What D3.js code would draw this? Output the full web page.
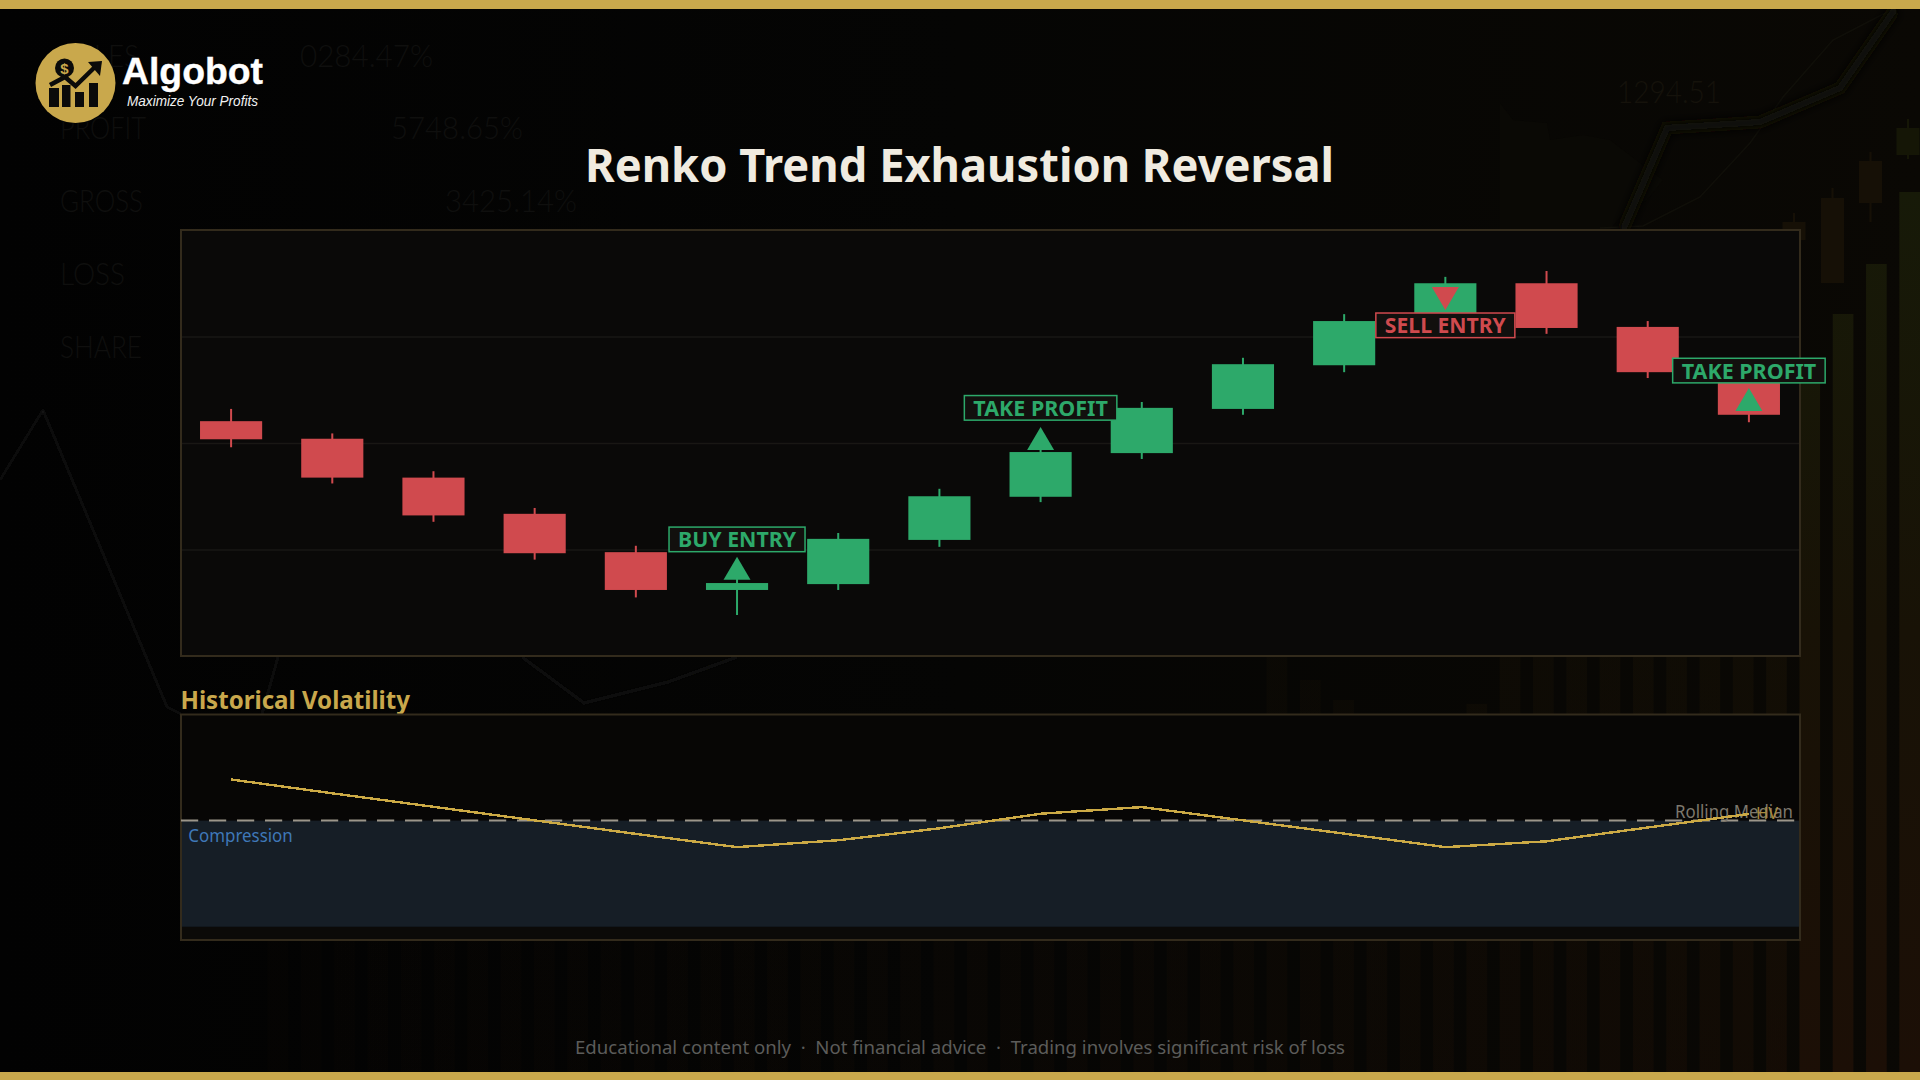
<!DOCTYPE html>
<html><head><meta charset="utf-8">
<script src="https://cdn.jsdelivr.net/npm/d3@7"></script>
<style>html,body{margin:0;padding:0;background:#030303;overflow:hidden}svg{display:block}.pre{white-space:pre}</style>
</head><body><svg id="c" width="1920" height="1080"></svg>
<script>
// ---- chart data ----
const bricks = ["1","2","3","4","5","6","7","8","9","10","11","12","13","14","15","16"];
const opens  = [104.41,104.08,103.35,102.67,101.95,101.24,101.35,102.18,102.99,103.81,104.64,105.46,106.18,107.00,106.18,105.35];
const closes = [104.07,103.35,102.64,101.93,101.24,101.37,102.20,103.00,103.83,104.66,105.48,106.29,107.00,106.16,105.33,104.53];
const highs  = [104.64,104.18,103.47,102.78,102.07,101.48,102.31,103.14,103.96,104.77,105.60,106.42,107.12,107.23,106.29,105.46];
const lows   = [103.92,103.24,102.52,101.81,101.10,100.77,101.24,102.05,102.89,103.70,104.53,105.33,106.07,106.05,105.22,104.39];
const priceGrid = [102,104,106];
const hv = [55.5,50.3,45.2,40.1,35.0,30.0,32.6,37.1,42.6,45.1,40.1,35.1,30.0,32.2,37.4,42.5];
const hvMedian = 40;
const signalText  = ["BUY ENTRY","TAKE PROFIT","SELL ENTRY","TAKE PROFIT"];
const signalBrick = ["6","9","13","16"];
const signalDir   = [1,1,-1,1];
const signalBase  = [101.43,103.87,106.93,104.60];
const signalLabel = [102.19,104.66,106.21,105.36];
// ---- backdrop data ----
const ghostText = ["SALES","0284.47%","PROFIT","5748.65%","GROSS","3425.14%","LOSS","SHARE","1294.51"];
const ghostX    = [61,300,60,391,60,445,60,60,1617];
const ghostW    = [78,133,86,132,83,132,65,82,104];
const ghostY    = [67,67,139,139,212,212,285,358,103];
const ghostBarTops = [900,900,890,900,880,880,870,870,860,860,850,850,840,840,830,830,820,820,800,800,780,780,770,760,760,740,740,730,720,720,655,680,700,720,730,720,704,650,650,650,650,650,650,650,650,640,380,314,264,192];
const ghostCandleX = [1794,1832.5,1870.5,1908];
const ghostCandleTop = [222,198,161,128];
const ghostCandleBot = [240,283,203,155];
const ghostWickTop = [213,188,152,119];
const ghostWickBot = [240,283,222,159];
const ghostBright = [[1623,230],[1667,128],[1760,122],[1840,88],[1895,9]];
const ghostCurve = [[1600,228],[1643,226],[1700,197],[1750,143],[1783,97],[1833,40],[1893,9]];
const ghostLeft = [[0,480],[43,410],[167,707],[181,714]];
const ghostLeft2 = [[262,714],[278,657]];
const ghostMid = [[522,657],[584,703],[668,682],[737,657]];
const ghostBull = [[1500,103],[1513,120],[1547,123],[1550,140],[1583,135],[1610,140],[1640,163],[1663,180],[1647,200],[1623,213],[1610,230],[1500,230]];

const FONT = "'Noto Sans','Open Sans',sans-serif";
const GOLD="#c9a84c", GREEN="#2da96a", RED="#d04a4e", FRAME="#332b1c";
const svg = d3.select("#c");
const defs = svg.append("defs");
const bgG = defs.append("linearGradient").attr("id","bg");
bgG.append("stop").attr("offset",0).attr("stop-color","#020202");
bgG.append("stop").attr("offset",.5).attr("stop-color","#050504");
bgG.append("stop").attr("offset",1).attr("stop-color","#0a0804");
const barG = defs.append("linearGradient").attr("id","bar").attr("gradientUnits","userSpaceOnUse").attr("x1",0).attr("x2",0).attr("y1",190).attr("y2",1072);
barG.append("stop").attr("offset",0).attr("stop-color","#171a08");
barG.append("stop").attr("offset",.5).attr("stop-color","#181206");
barG.append("stop").attr("offset",1).attr("stop-color","#1c0f06");
defs.append("filter").attr("id","b1").attr("x","-20%").attr("y","-20%").attr("width","140%").attr("height","140%").append("feGaussianBlur").attr("stdDeviation",1);
defs.append("filter").attr("id","b2").attr("x","-20%").attr("y","-20%").attr("width","140%").attr("height","140%").append("feGaussianBlur").attr("stdDeviation",2);
defs.append("filter").attr("id","b4").attr("x","-20%").attr("y","-20%").attr("width","140%").attr("height","140%").append("feGaussianBlur").attr("stdDeviation",4);

// backdrop
const bg = svg.append("g");
bg.append("rect").attr("width",1920).attr("height",1080).attr("fill","url(#bg)");
const lineRaw = d3.line();
bg.append("path").attr("d",lineRaw(ghostBull)+"Z").attr("fill","#0a0905");
const xGhost = d3.scaleBand().domain(d3.range(ghostBarTops.length)).range([267.6,1920]).paddingInner(.38).paddingOuter(0);
const ghostFade = d3.scaleLinear().domain([267,1300,1760,1800]).range([.08,.25,.5,1]);
bg.selectAll(".gb").data(ghostBarTops).join("rect").attr("x",(d,i)=>xGhost(i)).attr("width",xGhost.bandwidth())
  .attr("y",d=>d).attr("height",d=>1072-d).attr("fill","url(#bar)").attr("opacity",(d,i)=>ghostFade(xGhost(i)));
ghostCandleX.forEach((x,i)=>{
  const col = i===3?"#151606":"#161006";
  bg.append("rect").attr("x",x-1).attr("width",2).attr("y",ghostWickTop[i]).attr("height",ghostWickBot[i]-ghostWickTop[i]).attr("fill",col);
  bg.append("rect").attr("x",x-11.5).attr("width",23).attr("y",ghostCandleTop[i]).attr("height",ghostCandleBot[i]-ghostCandleTop[i]).attr("fill",col);
});
const ln = (pts,w,c,f)=>bg.append("path").attr("d",lineRaw(pts)).attr("fill","none").attr("stroke",c).attr("stroke-width",w).attr("filter",f||null);
ln(ghostCurve,1.5,"#100f09");
ln(ghostBright,13,"#0e0a05","url(#b4)");
ln(ghostBright,6,"#0f0f11","url(#b2)");
ln(ghostLeft,2,"#131313","url(#b1)");
ln(ghostLeft2,2,"#131313","url(#b1)");
ln(ghostMid,3,"#111110","url(#b1)");
ghostText.forEach((t,i)=>{
  bg.append("text").attr("x",ghostX[i]).attr("y",ghostY[i]).text(t).attr("font-family","Lato,sans-serif").attr("font-weight",300)
    .attr("font-size",32).attr("fill",i===8?"#15120b":"#0f0f0e").attr("textLength",ghostW[i]).attr("lengthAdjust","spacingAndGlyphs");
});
bg.append("rect").attr("width",1920).attr("height",9).attr("fill",GOLD);
bg.append("rect").attr("y",1072).attr("width",1920).attr("height",8).attr("fill",GOLD);

// logo
const logo = svg.append("g");
logo.append("circle").attr("cx",75.5).attr("cy",83).attr("r",40).attr("fill",GOLD);
const ink="#0b0b0a";
logo.append("circle").attr("cx",64.5).attr("cy",68).attr("r",9.5).attr("fill",ink);
logo.append("text").attr("x",64.5).attr("y",73.5).attr("text-anchor","middle").attr("font-family","'Liberation Sans'").attr("font-weight",700).attr("font-size",15).attr("fill",GOLD).text("$");
[[49,88,10],[62,85,8.5],[75,92,9],[89,83,9]].forEach(b=>logo.append("rect").attr("x",b[0]).attr("y",b[1]).attr("width",b[2]).attr("height",107-b[1]).attr("fill",ink));
logo.append("path").attr("d",lineRaw([[50,85],[65,77],[75.5,86],[97,65]])).attr("fill","none").attr("stroke",ink).attr("stroke-width",4.5);
logo.append("path").attr("d",lineRaw([[88,62],[102,61],[100,76]])+"Z").attr("fill",ink);
logo.append("text").attr("x",122).attr("y",84).attr("font-family","'Liberation Sans'").attr("font-weight",700).attr("font-size",37).attr("fill","#fff").attr("stroke","#fff").attr("stroke-width",.4).attr("textLength",141).attr("lengthAdjust","spacingAndGlyphs").text("Algobot");
logo.append("text").attr("x",127).attr("y",105.5).attr("font-family","'Liberation Sans'").attr("font-style","italic").attr("font-size",14).attr("fill","#f2f2f2").attr("textLength",131).attr("lengthAdjust","spacingAndGlyphs").text("Maximize Your Profits");

// title
svg.append("text").attr("x",959.5).attr("y",182).attr("text-anchor","middle").attr("font-family",FONT).attr("font-weight",700).attr("font-size",46).attr("fill","#f0ebe0").attr("textLength",749).attr("lengthAdjust","spacingAndGlyphs").text("Renko Trend Exhaustion Reversal");

// main panel
const L=181,R=1800,T=230,B=656;
const x = d3.scaleBand().domain(bricks).range([L-.5,R-.5]).paddingInner(.386).paddingOuter(.193);
const y = d3.scaleLinear().domain([100,108]).range([B,T]);
svg.append("rect").attr("x",L).attr("y",T).attr("width",R-L).attr("height",B-T).attr("fill","#0a0908");
const gridAxis = d3.axisRight(y).tickValues(priceGrid).tickSize(R-L).tickFormat("");
const gridG = svg.append("g").attr("transform",`translate(${L},0)`).call(gridAxis);
gridG.select(".domain").remove();
gridG.selectAll("line").attr("stroke","#191714").attr("stroke-width",1.5);
svg.append("rect").attr("x",L).attr("y",T).attr("width",R-L).attr("height",B-T).attr("fill","none").attr("stroke",FRAME).attr("stroke-width",2);
const color = i=>closes[i]>=opens[i]?GREEN:RED;
const candles = svg.append("g");
candles.selectAll(".w").data(bricks).join("rect").attr("x",d=>x(d)+x.bandwidth()/2-1).attr("width",2)
  .attr("y",(d,i)=>y(highs[i])).attr("height",(d,i)=>y(lows[i])-y(highs[i])).attr("fill",(d,i)=>color(i));
candles.selectAll(".b").data(bricks).join("rect").attr("x",d=>x(d)).attr("width",x.bandwidth())
  .attr("y",(d,i)=>y(Math.max(opens[i],closes[i]))).attr("height",(d,i)=>Math.abs(y(opens[i])-y(closes[i]))).attr("fill",(d,i)=>color(i));

// volatility panel
const VT=714.5,VB=940;
const yv = d3.scaleLinear().domain([-5,80]).range([VB,VT]);
svg.append("text").attr("x",180.5).attr("y",709).attr("font-family",FONT).attr("font-weight",700).attr("font-size",25).attr("fill",GOLD).attr("textLength",229.5).attr("lengthAdjust","spacingAndGlyphs").text("Historical Volatility");
svg.append("rect").attr("x",L).attr("y",VT).attr("width",R-L).attr("height",VB-VT).attr("fill","#070605");
svg.append("rect").attr("x",L).attr("y",yv(0)).attr("width",R-L).attr("height",VB-yv(0)).attr("fill","#0b0a08");
svg.append("rect").attr("x",L).attr("y",yv(hvMedian)).attr("width",R-L).attr("height",yv(0)-yv(hvMedian)).attr("fill","#161e26");
svg.append("rect").attr("x",L).attr("y",VT).attr("width",R-L).attr("height",VB-VT).attr("fill","none").attr("stroke",FRAME).attr("stroke-width",2);
svg.append("line").attr("x1",L).attr("x2",R-3).attr("y1",yv(hvMedian)).attr("y2",yv(hvMedian)).attr("stroke","#9c968a").attr("stroke-width",2).attr("stroke-dasharray","17.2 10.8");
svg.append("text").attr("x",188.3).attr("y",841.7).attr("font-family",FONT).attr("font-size",18).attr("fill","#3f78b8").attr("textLength",104.5).attr("lengthAdjust","spacingAndGlyphs").text("Compression");
svg.append("text").attr("x",1675).attr("y",818).attr("font-family",FONT).attr("font-size",18).attr("fill","#7d786d").attr("textLength",118).attr("lengthAdjust","spacingAndGlyphs").text("Rolling Median");
svg.append("path").datum(hv).attr("fill","none").attr("stroke","#ccaa45").attr("stroke-width",2.4).attr("shape-rendering","crispEdges")
  .attr("d",d3.line().x((d,i)=>x(bricks[i])+x.bandwidth()/2).y(d=>yv(d)));
svg.append("text").attr("x",1756).attr("y",819).attr("font-family",FONT).attr("font-size",17).attr("fill","#a8893c").attr("textLength",22).attr("lengthAdjust","spacingAndGlyphs").text("HV");

// signals
const labelTextWidth = [118,134.5,121,134.5];
const sig = svg.append("g");
signalText.forEach((t,i)=>{
  const col = signalDir[i]>0?GREEN:RED;
  const cx = x(signalBrick[i])+x.bandwidth()/2;
  const by = y(signalBase[i]), ay = by - signalDir[i]*23;
  sig.append("path").attr("d",lineRaw([[cx-13.5,by],[cx+13.5,by],[cx,ay]])+"Z").attr("fill",col);
  const ly = y(signalLabel[i]);
  const w = labelTextWidth[i];
  sig.append("rect").attr("fill","#12100e").attr("stroke",col).attr("stroke-width",1.5)
    .attr("x",cx-w/2-9).attr("y",ly-12.3).attr("width",w+18).attr("height",24.6);
  sig.append("text").attr("x",cx).attr("y",ly+8).attr("text-anchor","middle").attr("font-family",FONT).attr("font-weight",700).attr("font-size",22).attr("fill",col)
    .attr("textLength",w).attr("lengthAdjust","spacingAndGlyphs").text(t);
});

// footer
svg.append("text").attr("class","pre").attr("x",960).attr("y",1054).attr("text-anchor","middle").attr("font-family",FONT).attr("font-size",18.5).attr("fill","#5c5c5a").attr("textLength",770).attr("lengthAdjust","spacingAndGlyphs").text("Educational content only  ·  Not financial advice  ·  Trading involves significant risk of loss");
</script></body></html>
